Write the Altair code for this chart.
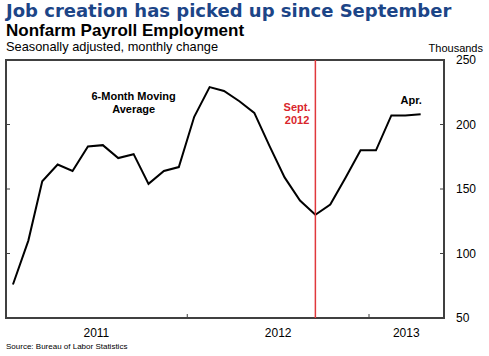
import altair as alt
import pandas as pd

# ---- data ----
months = pd.date_range("2011-01-01", periods=28, freq="MS") + pd.Timedelta(days=14)
payroll_ma = [76, 110, 156, 169, 164, 183, 184, 174, 177, 154, 164, 167,
              206, 229, 226, 218, 209, 183, 159, 141, 130, 138, 159, 180,
              180, 207, 207, 208]
y_ticks = [50, 100, 150, 200, 250]
year_labels = ["2011", "2012", "2013"]
year_label_dates = ["2011-07-02", "2012-07-02", "2013-03-17"]
year_tick_dates = ["2012-01-01", "2013-01-01"]
event_date = ["2012-09-15"]
ann_text = ["6-Month Moving", "Average", "Sept.", "2012", "Apr."]
ann_date = ["2011-09-15", "2011-09-15", "2012-08-09", "2012-08-09", "2013-03-27"]
ann_value = [219, 209, 210.5, 200.5, 216]
ann_color = ["black", "black", "#d9262c", "#d9262c", "black"]

W, H = 438, 258
df = pd.DataFrame({"date": months, "value": payroll_ma})
ticks_df = pd.DataFrame({"v": y_ticks, "lab": [str(v) for v in y_ticks]})
ylab_df = pd.DataFrame({"date": pd.to_datetime(year_label_dates), "label": year_labels})
ytick_df = pd.DataFrame({"date": pd.to_datetime(year_tick_dates)})
ev_df = pd.DataFrame({"date": pd.to_datetime(event_date)})
ann_df = pd.DataFrame({"date": pd.to_datetime(ann_date), "value": ann_value,
                       "text": ann_text, "color": ann_color})

xscale = alt.Scale(domain=[alt.DateTime(year=2011, month=1, date=1),
                           alt.DateTime(year=2013, month=6, date=1)])
yscale = alt.Scale(domain=[50, 250], nice=False, zero=False)


def X(field):
    return alt.X(field, scale=xscale, axis=None)


def Y(field):
    return alt.Y(field, scale=yscale, axis=None)


line = alt.Chart(df).mark_line(color="black", strokeWidth=2).encode(
    x=X("date:T"), y=Y("value:Q"))

event = alt.Chart(ev_df).mark_rule(color="#e0383c", strokeWidth=1.5).encode(
    x=X("date:T"))

left_ticks = alt.Chart(ticks_df).mark_rule(color="#404040", strokeWidth=1).encode(
    y=Y("v:Q"), x=alt.value(0), x2=alt.value(4))
right_ticks = alt.Chart(ticks_df).mark_rule(color="#404040", strokeWidth=1).encode(
    y=Y("v:Q"), x=alt.value(W - 4), x2=alt.value(W))
bottom_ticks = alt.Chart(ytick_df).mark_rule(color="#404040", strokeWidth=1).encode(
    x=X("date:T"), y=alt.value(H - 4), y2=alt.value(H))

y_labels = alt.Chart(ticks_df).mark_text(fontSize=12, font="Liberation Sans", align="left",
                                         baseline="middle", color="black").encode(
    y=Y("v:Q"), x=alt.value(W + 12), text="lab:N")

year_text = alt.Chart(ylab_df).mark_text(fontSize=12, font="Liberation Sans",
                                         baseline="alphabetic", color="black").encode(
    x=X("date:T"), y=alt.value(H + 19), text="label:N")

ann = alt.Chart(ann_df).mark_text(fontSize=11, font="Liberation Sans", fontWeight="bold",
                                  baseline="alphabetic").encode(
    x=X("date:T"), y=Y("value:Q"),
    text="text:N", color=alt.Color("color:N", scale=None))


def label(txt, x, y, **kw):
    return alt.Chart(pd.DataFrame({"t": [txt]})).mark_text(baseline="alphabetic", **kw).encode(
        x=alt.value(x), y=alt.value(y), text="t:N")


title = label("Job creation has picked up since September", 0, -43, align="left",
              font="DejaVu Sans", fontWeight="bold", fontSize=18, color="#1c4587")
subtitle = label("Nonfarm Payroll Employment", 0, -24, align="left",
                 font="Liberation Sans", fontWeight="bold", fontSize=17, color="black")
sub2 = label("Seasonally adjusted, monthly change", 0, -9, align="left",
             font="Liberation Sans", fontSize=12.8, color="black")
thousands = label("Thousands", 477, -8, align="right",
                  font="Liberation Sans", fontSize=11, color="black")
source = label("Source: Bureau of Labor Statistics", 0, H + 31, align="left",
               font="Liberation Sans", fontSize=8, color="black")

chart = alt.layer(
    line, event, left_ticks, right_ticks, bottom_ticks, y_labels, year_text, ann,
    title, subtitle, sub2, thousands, source
).properties(
    width=W, height=H,
    padding={"left": 6, "top": 60, "right": 45, "bottom": 38},
    autosize=alt.AutoSizeParams(type="none"),
    background="white",
).configure_view(stroke="#404040", strokeWidth=2)

chart.save("out.html", embed_options={"renderer": "svg", "actions": False})
